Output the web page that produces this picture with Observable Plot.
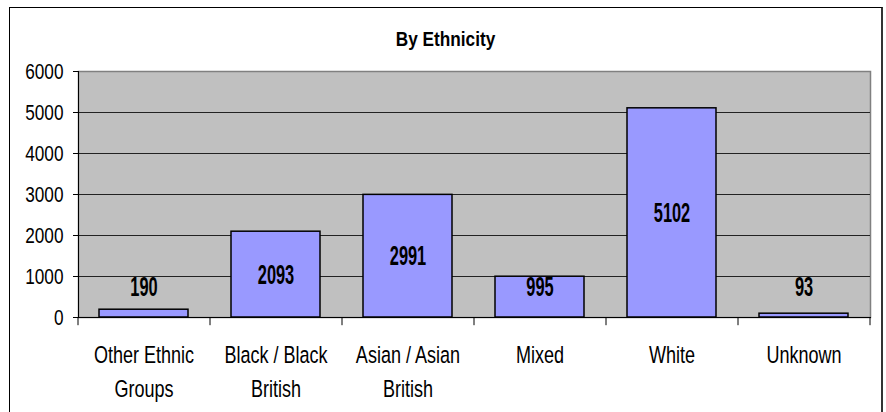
<!DOCTYPE html>
<html>
<head>
<meta charset="utf-8">
<script src="https://cdn.jsdelivr.net/npm/d3@7"></script>
<script src="https://cdn.jsdelivr.net/npm/@observablehq/plot@0.6"></script>
<style>
  html, body { margin: 0; padding: 0; background: #fff; overflow: hidden; }
  #wrap { position: relative; width: 886px; height: 412px; }
  #border { position: absolute; left: 9px; top: 7px; width: 871px; height: 430px;
            border-left: 1.5px solid #000; border-top: 1.5px solid #000; border-right: 2px solid #333; }
  #chart { position: absolute; left: 0; top: 0; }
</style>
</head>
<body>
<div id="wrap"><div id="border"></div><div id="chart"></div></div>
<script>
const title = "By Ethnicity";
const categories = ["Other Ethnic Groups", "Black / Black British", "Asian / Asian British", "Mixed", "White", "Unknown"];
const tickLabels = ["Other Ethnic\nGroups", "Black / Black\nBritish", "Asian / Asian\nBritish", "Mixed", "White", "Unknown"];
const values = [190, 2093, 2991, 995, 5102, 93];
const yTicks = [0, 1000, 2000, 3000, 4000, 5000, 6000];

const data = categories.map((c, i) => ({category: c, value: values[i]}));
const font = "'Liberation Sans', Arial, sans-serif";

const W = 886, H = 412;
const mL = 78, mR = 16, mT = 71, mB = 95;
const step = (W - mL - mR) / categories.length;

const chart = Plot.plot({
  width: W,
  height: H,
  marginLeft: mL,
  marginRight: mR,
  marginTop: mT,
  marginBottom: mB,
  style: {fontFamily: font, background: "transparent", color: "#000"},
  x: {domain: categories, paddingInner: 0.325, paddingOuter: 0.1625, axis: null, label: null},
  y: {domain: [0, 6000], axis: null, label: null},
  marks: [
    Plot.frame({fill: "#C0C0C0", stroke: "#808080", strokeWidth: 1.5}),
    Plot.ruleY(yTicks.slice(1, -1), {stroke: "#222", strokeWidth: 1}),
    Plot.barY(data, {x: "category", y: "value", fill: "#9999FF", stroke: "#000", strokeWidth: 1.5}),
    Plot.frame({anchor: "left", stroke: "#000", strokeWidth: 1}),
    Plot.frame({anchor: "bottom", stroke: "#000", strokeWidth: 1}),
    Plot.axisY({ticks: yTicks, label: null, tickSize: 5, tickPadding: 10, fontSize: 21, tickFormat: d => String(d)}),
    // category boundary tick marks below the x axis
    Plot.ruleX(categories, {x: d => d, dx: -step / 2, y1: 0, y2: -200, stroke: "#000"}),
    Plot.ruleX(categories.slice(-1), {x: d => d, dx: step / 2, y1: 0, y2: -200, stroke: "#000"}),
    Plot.axisX({domain: categories, label: null, tickSize: 0, tickPadding: 22, fontSize: 22, lineHeight: 1.45,
                tickFormat: d => tickLabels[categories.indexOf(d)]}),
    Plot.text(data, {x: "category", y: d => Math.max(d.value / 2, 740), text: d => String(d.value),
                     fontSize: 20, fontWeight: "bold", fill: "#000", lineAnchor: "middle", className: "vals"}),
    Plot.text([title], {frameAnchor: "top", dx: -29, dy: -26, lineAnchor: "bottom",
                        fontSize: 21, fontWeight: "bold", fill: "#000", className: "ttl"})
  ]
});

// emulate a narrow (condensed) typeface by scaling each text around its anchor
function squeeze(sel, sx, sy) {
  chart.querySelectorAll(sel).forEach(t => {
    const tr = t.getAttribute("transform") || "";
    t.setAttribute("transform", tr + ` scale(${sx},${sy})`);
  });
}
squeeze("g[aria-label='y-axis tick label'] text", 0.82, 1.05);
squeeze("g[aria-label='x-axis tick label'] text", 0.82, 1.05);
squeeze("g.vals text", 0.82, 1.4);
squeeze("g.ttl text", 0.82, 1);

document.getElementById("chart").appendChild(chart);
</script>
</body>
</html>
